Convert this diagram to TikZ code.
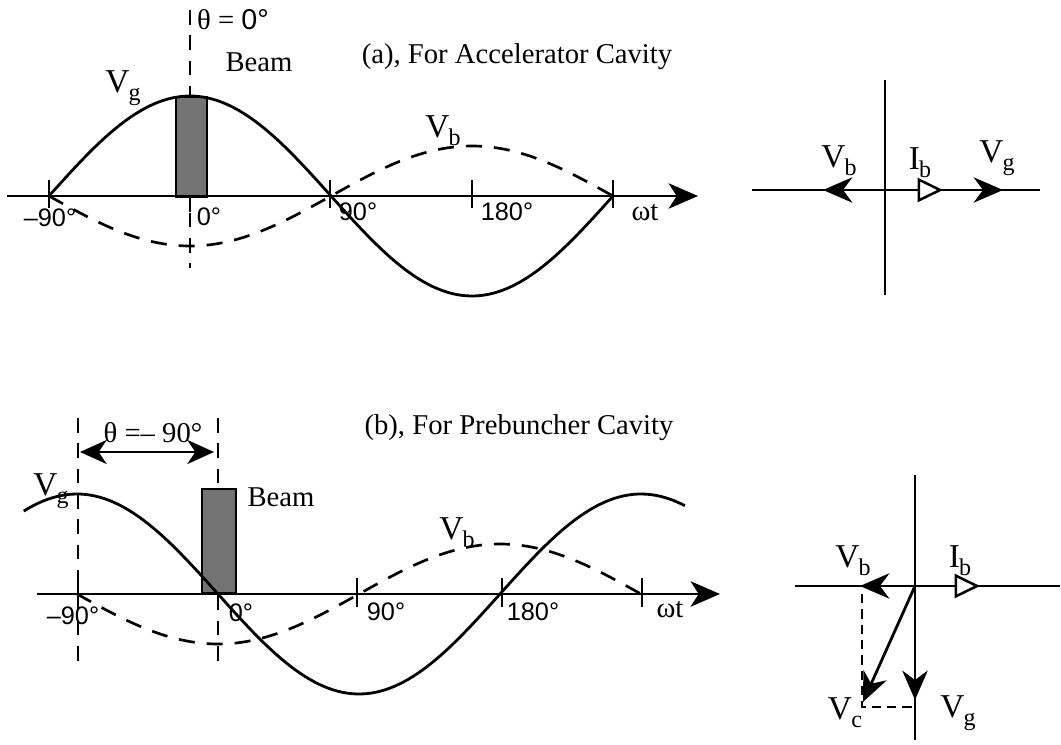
\documentclass[tikz,border=0pt]{standalone}
\usepackage{fontspec}
\setmainfont{Liberation Serif}
\newfontfamily\hvfont{Liberation Sans}
\usetikzlibrary{arrows.meta}
\newcommand{\VS}[2]{#1\kern-0.5pt\raisebox{-0.5ex}{\fontsize{18}{18}\selectfont #2}}
\begin{document}
\begin{tikzpicture}[x=0.75pt,y=-0.75pt,
  curve/.style={line width=2.1pt},
  dcurve/.style={line width=2pt,dash pattern=on 12pt off 9pt},
  vdash/.style={line width=1.8pt,dash pattern=on 11pt off 8pt},
  sdash/.style={line width=1.6pt,dash pattern=on 7pt off 4.5pt},
  axisline/.style={line width=2.1pt},
  beambox/.style={draw=black,fill=black!55,line width=1.5pt},
  tickmark/.style={line width=1.8pt},
  axarrow/.style={line width=2.1pt,-{Stealth[length=22pt,width=19pt,inset=6pt]}},
  fillarrow/.style={line width=2.1pt,-{Stealth[length=22pt,width=19pt,inset=7pt]}},
  openarrow/.style={line width=2.1pt,-{Triangle[open,fill=white,length=19pt,width=18pt,line width=1.9pt]}},
  dblarrow/.style={line width=2.1pt,{Stealth[length=20pt,width=18pt,inset=6pt]}-{Stealth[length=20pt,width=18pt,inset=6pt]}},
  lbl/.style={font=\fontsize{21.5}{21.5}\selectfont,inner sep=0pt},
  deg/.style={font=\hvfont\fontsize{19}{19}\selectfont,inner sep=0pt},
  vlab/.style={font=\fontsize{25}{25}\selectfont,inner sep=0pt}
]
\useasboundingbox (0,0) rectangle (1061,745);

% ================= (a) =================
\coordinate (aL) at (7,196);
\coordinate (aR) at (698,196);
\coordinate (dTop) at (190,10);
\coordinate (dBot) at (190,268);
\draw[vdash] (dTop) -- (dBot);
\draw[beambox] (176,97) rectangle (207,197);
\draw[axarrow] (aL) -- (aR);
\foreach \tx in {49,330,472,613} \draw[tickmark] (\tx,180) -- (\tx,208);
\draw[tickmark] (190,196) -- (190,212);
\draw[curve] plot[domain=-90:270,samples=120] ({190+141/90*\x},{196-100*cos(\x)});
\draw[dcurve] plot[domain=-90:270,samples=120] ({190+141/90*\x},{196+50*cos(\x)});
\node[lbl] (tha) at (233,20) {θ = {\hvfont 0°}};
\node[lbl] (beama) at (259,62) {Beam};
\node[lbl] (capa) at (517,57) {(a), For Accelerator Cavity};
\node[vlab] (vga) at (123,88) {\VS{V}{g}};
\node[vlab] (vba) at (443,131) {\VS{V}{b}};
\node[deg] (m90a) at (50,218) {–90°};
\node[deg] (z0a) at (209,217) {0°};
\node[deg] (p90a) at (358,212) {90°};
\node[deg] (p180a) at (507,212) {180°};
\node[lbl] (wta) at (645,213) {ωt};

% phasor (a)
\coordinate (oa) at (885,190);
\coordinate (haL) at (752,190);
\coordinate (haR) at (1040,190);
\coordinate (vaT) at (885,80);
\coordinate (vaB) at (885,295);
\coordinate (vbA) at (823,190);
\coordinate (ibA) at (943,190);
\coordinate (vgA) at (1003,190);
\draw[axisline] (haL) -- (haR);
\draw[axisline] (vaT) -- (vaB);
\draw[fillarrow] (oa) -- (vbA);
\draw[openarrow] (oa) -- (ibA);
\draw[fillarrow] (ibA) -- (vgA);
\node[vlab] (lvba) at (839,161) {\VS{V}{b}};
\node[vlab] (liba) at (920,163) {\VS{I}{b}};
\node[vlab] (lvga) at (997,158) {\VS{V}{g}};

% ================= (b) =================
\coordinate (bL) at (37,594);
\coordinate (bR) at (720,594);
\coordinate (d1T) at (78,418);
\coordinate (d1B) at (78,667);
\coordinate (d2T) at (218,418);
\coordinate (d2B) at (218,667);
\draw[vdash] (d1T) -- (d1B);
\draw[vdash] (d2T) -- (d2B);
\draw[beambox] (202,489) rectangle (236,593);
\draw[axarrow] (bL) -- (bR);
\foreach \tx in {357,502,642} \draw[tickmark] (\tx,578) -- (\tx,607);
\draw[tickmark] (78,580) -- (78,608);
\draw[curve] plot[domain=-124:298,samples=140] ({218+141/90*\x},{594+100*sin(\x)});
\draw[dcurve] plot[domain=-90:270,samples=120] ({218+141/90*\x},{594+50*cos(\x)});
\coordinate (arL) at (80,452);
\coordinate (arR) at (214,452);
\draw[dblarrow] (arL) -- (arR);
\node[lbl] (thb) at (153,433) {θ =– 90°};
\node[lbl] (beamb) at (281,497) {Beam};
\node[lbl] (capb) at (519,428) {(b), For Prebuncher Cavity};
\node[vlab] (vgb) at (51,491) {\VS{V}{g}};
\node[vlab] (vbb) at (457,533) {\VS{V}{b}};
\node[deg] (m90b) at (73,616) {–90°};
\node[deg] (z0b) at (241,613) {0°};
\node[deg] (p90b) at (386,612) {90°};
\node[deg] (p180b) at (533,612) {180°};
\node[lbl] (wtb) at (670,610) {ωt};

% phasor (b)
\coordinate (ob) at (915,586);
\coordinate (hbL) at (795,586);
\coordinate (hbR) at (1060,586);
\coordinate (vbT) at (915,475);
\coordinate (vbBt) at (915,740);
\coordinate (vbB) at (860,586);
\coordinate (ibB) at (980,586);
\coordinate (vgB) at (915,700);
\coordinate (vcB) at (863,702);
\coordinate (dc1) at (862,594);
\coordinate (dc2) at (862,707);
\coordinate (dc3) at (915,707);
\draw[axisline] (hbL) -- (hbR);
\draw[axisline] (vbT) -- (vbBt);
\draw[fillarrow] (ob) -- (vbB);
\draw[openarrow] (ob) -- (ibB);
\draw[fillarrow] (ob) -- (vgB);
\draw[fillarrow] (ob) -- (vcB);
\draw[sdash] (dc1) -- (dc2) -- (dc3);
\node[vlab] (lvbb) at (853,561) {\VS{V}{b}};
\node[vlab] (libb) at (960,561) {\VS{I}{b}};
\node[vlab] (lvcb) at (845,713) {\VS{V}{c}};
\node[vlab] (lvgb) at (958,713) {\VS{V}{g}};
\end{tikzpicture}
\end{document}
